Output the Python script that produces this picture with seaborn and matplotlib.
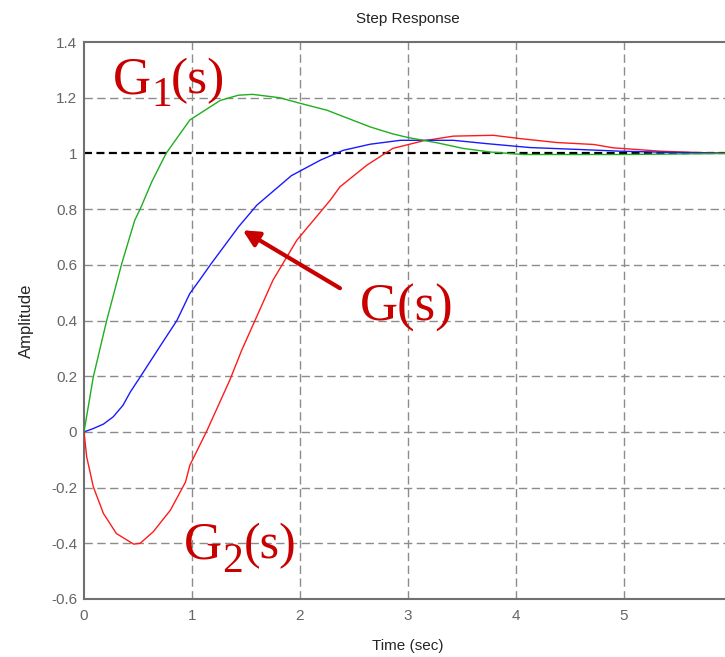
import pandas as pd
import matplotlib
matplotlib.use('Agg')
import matplotlib.pyplot as plt
import seaborn as sns

# step responses
t_g1 = [0, 0.086, 0.21, 0.35, 0.47, 0.52, 0.63, 0.76, 0.98, 1.26, 1.43, 1.56, 1.81, 2.0,
        2.25, 2.65, 2.86, 3.0, 3.27, 3.51, 3.76, 4.07, 4.5, 5.0, 5.5, 6.0]
g1 = [0, 0.197, 0.40, 0.605, 0.76, 0.80, 0.90, 1.0, 1.12, 1.19, 1.209, 1.212, 1.20, 1.18,
      1.155, 1.095, 1.07, 1.057, 1.038, 1.018, 1.005, 0.996, 0.996, 0.996, 0.998, 1.0]

t_g = [0, 0.086, 0.18, 0.27, 0.36, 0.43, 0.52, 0.70, 0.86, 0.98, 1.07, 1.17, 1.43, 1.6, 1.92,
       2.19, 2.4, 2.65, 2.93, 3.42, 3.73, 4.13, 4.59, 4.96, 5.5, 6.0]
g = [0, 0.012, 0.028, 0.054, 0.095, 0.144, 0.197, 0.305, 0.40, 0.497, 0.545, 0.60, 0.736,
     0.814, 0.92, 0.976, 1.011, 1.033, 1.047, 1.047, 1.035, 1.021, 1.014, 1.008, 1.003, 1.0]

t_g2 = [0, 0.025, 0.086, 0.18, 0.30, 0.46, 0.52, 0.64, 0.80, 0.94, 0.98, 1.14, 1.35, 1.46,
        1.75, 1.97, 2.28, 2.37, 2.62, 2.86, 3.14, 3.42, 3.79, 4.04, 4.38, 4.72, 4.9, 5.12,
        5.33, 5.7, 6.0]
g2 = [0, -0.09, -0.197, -0.293, -0.365, -0.403, -0.40, -0.359, -0.281, -0.18, -0.12, 0.006,
      0.186, 0.293, 0.545, 0.688, 0.832, 0.88, 0.958, 1.018, 1.045, 1.062, 1.065, 1.053,
      1.039, 1.032, 1.02, 1.014, 1.008, 1.003, 1.0]

xticks = [0, 1, 2, 3, 4, 5]
yticks = [-0.6, -0.4, -0.2, 0, 0.2, 0.4, 0.6, 0.8, 1, 1.2, 1.4]
ytick_labels = ['-0.6', '-0.4', '-0.2', '0', '0.2', '0.4', '0.6', '0.8', '1', '1.2', '1.4']

df = pd.concat([
    pd.DataFrame({'t': t_g2, 'y': g2, 'sys': 'G2'}),
    pd.DataFrame({'t': t_g, 'y': g, 'sys': 'G'}),
    pd.DataFrame({'t': t_g1, 'y': g1, 'sys': 'G1'}),
])

sns.set_style('white')
plt.rcParams['font.family'] = ['Liberation Sans', 'DejaVu Sans']

fig = plt.figure(figsize=(7.25, 6.57), dpi=100)
ax = fig.add_axes([84/725, 1 - 599/657, (732 - 84)/725, (599 - 42)/657])

# grid first, so curves sit on top
for xv in xticks[1:]:
    ax.axvline(xv, color='#8c8c8c', lw=1.0, ls=(0, (6, 3.2)), zorder=1)
for yv in yticks[1:-1]:
    if yv != 1:
        ax.axhline(yv, color='#8c8c8c', lw=1.0, ls=(0, (6, 3.2)), zorder=1)
ax.axhline(1, color='black', lw=1.6, ls=(0, (3.6, 2.0)), zorder=2)

sns.lineplot(data=df, x='t', y='y', hue='sys', sort=False, estimator=None, ax=ax,
             palette={'G2': '#ff1a1a', 'G': '#1a1aff', 'G1': '#1fae1f'},
             linewidth=1.0, legend=False, zorder=3)

ax.set_xlim(0, 6)
ax.set_ylim(-0.6, 1.4)
ax.set_xticks(xticks)
ax.set_xticklabels([str(v) for v in xticks])
ax.set_yticks(yticks)
ax.set_yticklabels(ytick_labels)
ax.tick_params(axis='both', direction='in', length=5, width=1, color='#707070',
               labelcolor='#666666', labelsize=11)
ax.tick_params(axis='x', pad=7)
ax.tick_params(axis='y', pad=5)
for side in ['left', 'bottom', 'top', 'right']:
    ax.spines[side].set_color('#707070')
    ax.spines[side].set_linewidth(1.5)

ax.set_title('Step Response', fontsize=11, color='#222222', pad=14)
ax.set_xlabel('Time (sec)', fontsize=11, labelpad=12)
ax.set_ylabel('Amplitude', fontsize=12, labelpad=12)

# transfer function labels, subscripts as smaller lowered digits
red = '#c80000'
serif = dict(color=red, family='Liberation Serif', va='baseline', ha='left', zorder=5)
ax.text(0.269, 1.216, 'G', fontsize=38, **serif)
ax.text(0.62, 1.170, '1', fontsize=30, **serif)
ax.text(0.80, 1.216, '(s)', fontsize=37, **serif)

ax.text(0.926, -0.454, 'G', fontsize=38, **serif)
ax.text(1.28, -0.504, '2', fontsize=30, **serif)
ax.text(1.475, -0.454, '(s)', fontsize=36, **serif)

ax.text(2.556, 0.40, 'G(s)', fontsize=38, **serif)
ax.annotate('', xy=(1.47, 0.724), xytext=(2.37, 0.516),
            arrowprops=dict(arrowstyle='-|>', lw=3, color=red, mutation_scale=24,
                            shrinkA=0, shrinkB=0), zorder=5)

fig.savefig('out.png', dpi=100)
